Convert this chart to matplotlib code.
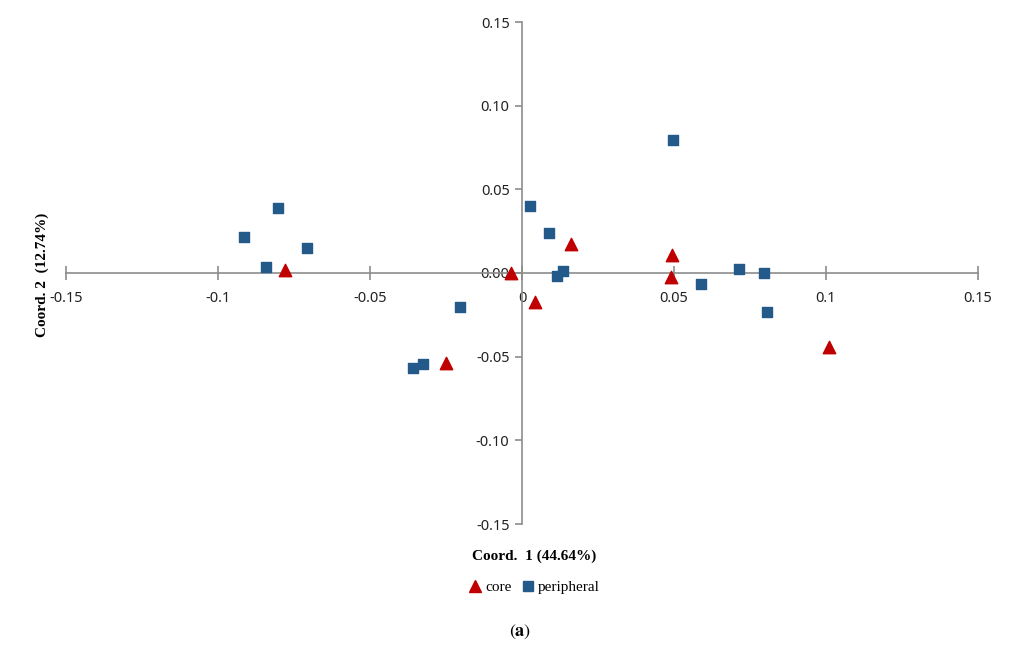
import matplotlib
matplotlib.use("Agg")
import matplotlib.pyplot as plt
from matplotlib.lines import Line2D

# PCoA coordinates
core_x = [-0.078, -0.025, -0.0036, 0.0043, 0.0161, 0.0493, 0.0490, 0.101]
core_y = [0.0018, -0.054, 0.0, -0.0173, 0.0173, 0.0107, -0.0024, -0.044]

peri_x = [-0.0914, -0.0803, -0.0842, -0.0707, -0.0204, -0.0359, -0.0326,
          0.0026, 0.0089, 0.0115, 0.0135, 0.0497, 0.0589, 0.0714, 0.0796, 0.0806]
peri_y = [0.0215, 0.0388, 0.0036, 0.0149, -0.0203, -0.0567, -0.0543,
          0.0400, 0.0239, -0.0018, 0.0012, 0.0794, -0.0066, 0.0024, 0.0000, -0.0233]

x_ticks = [-0.15, -0.1, -0.05, 0, 0.05, 0.1, 0.15]
x_labels = ["-0.15", "-0.1", "-0.05", "0", "0.05", "0.1", "0.15"]
y_ticks = [-0.15, -0.10, -0.05, 0.00, 0.05, 0.10, 0.15]
y_labels = ["-0.15", "-0.10", "-0.05", "0.00", "0.05", "0.10", "0.15"]

red = "#C00000"
blue = "#245A8A"
grey = "#8C8C8C"
serif = ["Liberation Serif", "DejaVu Serif"]

plt.rcParams["mathtext.fontset"] = "stix"

fig = plt.figure(figsize=(10.21, 6.63), dpi=100)
ax = fig.add_axes([66 / 1021, 1 - 524 / 663, (978 - 66) / 1021, (524 - 22) / 663])

ax.scatter(peri_x, peri_y, marker="s", s=55, color=blue, zorder=3)
ax.scatter(core_x, core_y, marker="^", s=80, color=red, zorder=3)

ax.set_xlim(-0.15, 0.15)
ax.set_ylim(-0.15, 0.15)

# axes cross at the origin
ax.spines["left"].set_position("zero")
ax.spines["bottom"].set_position("zero")
ax.spines["right"].set_visible(False)
ax.spines["top"].set_visible(False)
for s in ("left", "bottom"):
    ax.spines[s].set_color(grey)
    ax.spines[s].set_linewidth(1.2)

ax.set_xticks(x_ticks)
ax.set_xticklabels(x_labels)
ax.set_yticks(y_ticks)
ax.set_yticklabels(y_labels)
ax.tick_params(axis="x", direction="inout", length=10, width=1.2, color=grey,
               labelsize=10.5, pad=8, labelcolor="#222222")
ax.tick_params(axis="y", direction="out", length=5, width=1.2, color=grey,
               labelsize=10.5, pad=4, labelcolor="#222222")
for lbl in ax.get_xticklabels() + ax.get_yticklabels():
    lbl.set_family(["Noto Sans", "DejaVu Sans"])

# axis titles
fig.text(42 / 1021, 1 - 275 / 663, "Coord. 2  (12.74%)", rotation=90,
         ha="center", va="center", fontsize=11, fontweight="bold", family=serif)
fig.text(534 / 1021, 1 - 556 / 663, "Coord.  1 (44.64%)",
         ha="center", va="center", fontsize=11, fontweight="bold", family=serif)

# legend
handles = [
    Line2D([], [], marker="^", color=red, linestyle="none", markersize=8),
    Line2D([], [], marker="s", color=blue, linestyle="none", markersize=7),
]
fig.legend(handles, ["core", "peripheral"], loc="center",
           bbox_to_anchor=(534 / 1021, 1 - 587 / 663), ncol=2, frameon=False,
           handletextpad=0.2, columnspacing=0.6, handlelength=0.9,
           prop={"family": serif, "size": 11})

# panel caption
fig.text(520 / 1021, 1 - 632 / 663, r"$(\mathbf{a})$", ha="center", va="center",
         fontsize=13)

fig.savefig("out.png", dpi=100)
